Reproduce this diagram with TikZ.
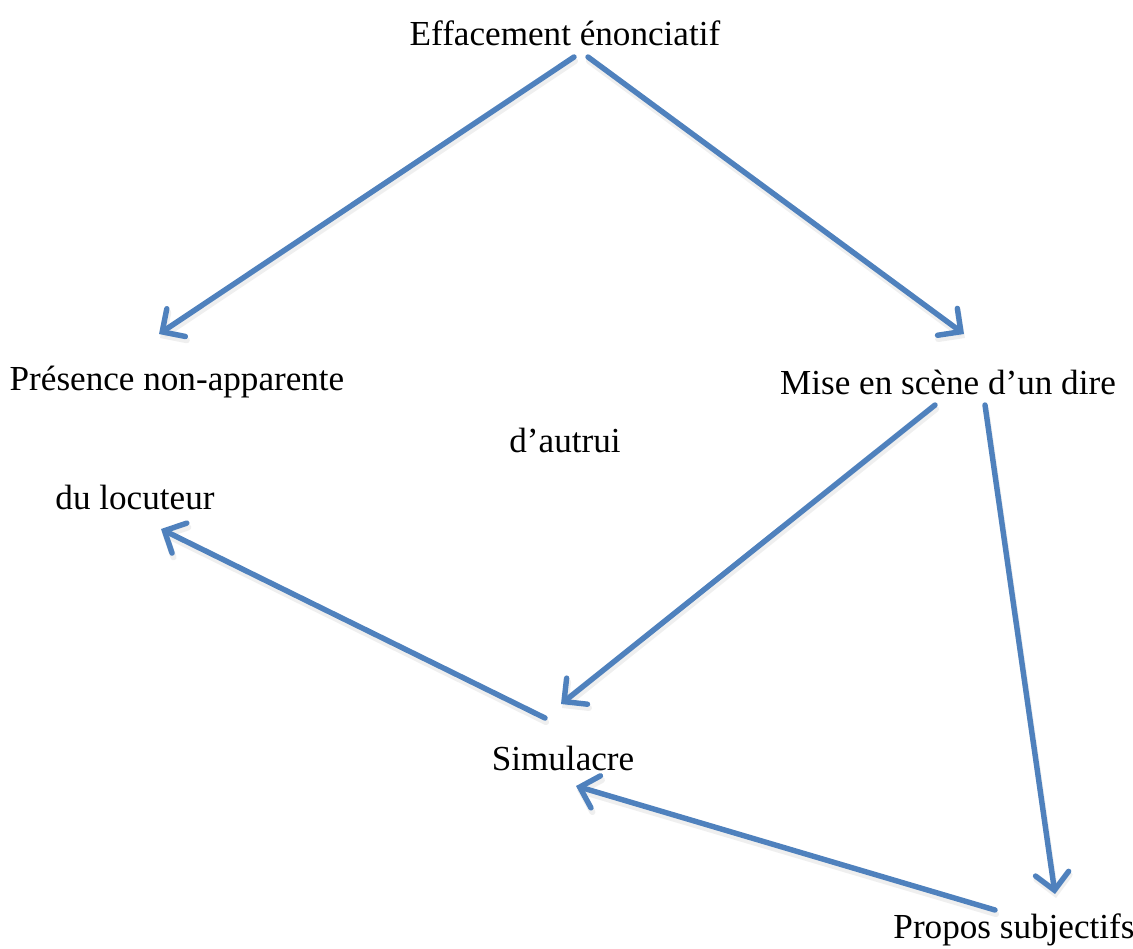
\documentclass[tikz,border=0pt]{standalone}
\usepackage{fontspec}
\setmainfont{Liberation Serif}
\usetikzlibrary{arrows.meta}
\definecolor{linkblue}{HTML}{4F81BD}
\begin{document}
\begin{tikzpicture}[x=0.02cm,y=-0.02cm,
  lbl/.style={font=\fontsize{20}{24}\selectfont, inner sep=0pt},
  link/.style={draw=linkblue, line width=3.1pt, line cap=round,
    -{Straight Barb[length=9.5pt,width=19pt,line cap=round]}},
  linkshadow/.style={draw=black!12, line width=3.5pt, line cap=round,
    -{Straight Barb[length=9.5pt,width=19pt,line cap=round]}}]
\useasboundingbox (0,0) rectangle (1133,948);
% labels
\node[lbl] (eff) at (565,33) {Effacement énonciatif};
\node[lbl] (pres) at (177,382) {Présence non-apparente};
\node[lbl] (mise) at (948,382) {Mise en scène d’un dire};
\node[lbl] (autrui) at (565,440) {d’autrui};
\node[lbl] (loc) at (135,497) {du locuteur};
\node[lbl] (sim) at (563,758) {Simulacre};
\node[lbl] (prop) at (1014,930) {Propos subjectifs};
% arrow end points
\coordinate (e1) at (574,57);  \coordinate (p1) at (159,334);
\coordinate (e2) at (588,57);  \coordinate (m1) at (964,334);
\coordinate (m2) at (935,405); \coordinate (s1) at (561,704);
\coordinate (m3) at (985,405); \coordinate (q1) at (1055,894);
\coordinate (s2) at (545,718); \coordinate (l1) at (161,529);
\coordinate (q2) at (995,910); \coordinate (s3) at (576,786);
% soft shadows
\foreach \a/\b in {e1/p1,e2/m1,m2/s1,m3/q1,s2/l1,q2/s3}
  \draw[linkshadow, opacity=0.5] ([shift={(1,4)}]\a) -- ([shift={(1,4)}]\b);
% connectors
\draw[link] (e1) -- (p1);
\draw[link] (e2) -- (m1);
\draw[link] (m2) -- (s1);
\draw[link] (m3) -- (q1);
\draw[link] (s2) -- (l1);
\draw[link] (q2) -- (s3);
\end{tikzpicture}
\end{document}
